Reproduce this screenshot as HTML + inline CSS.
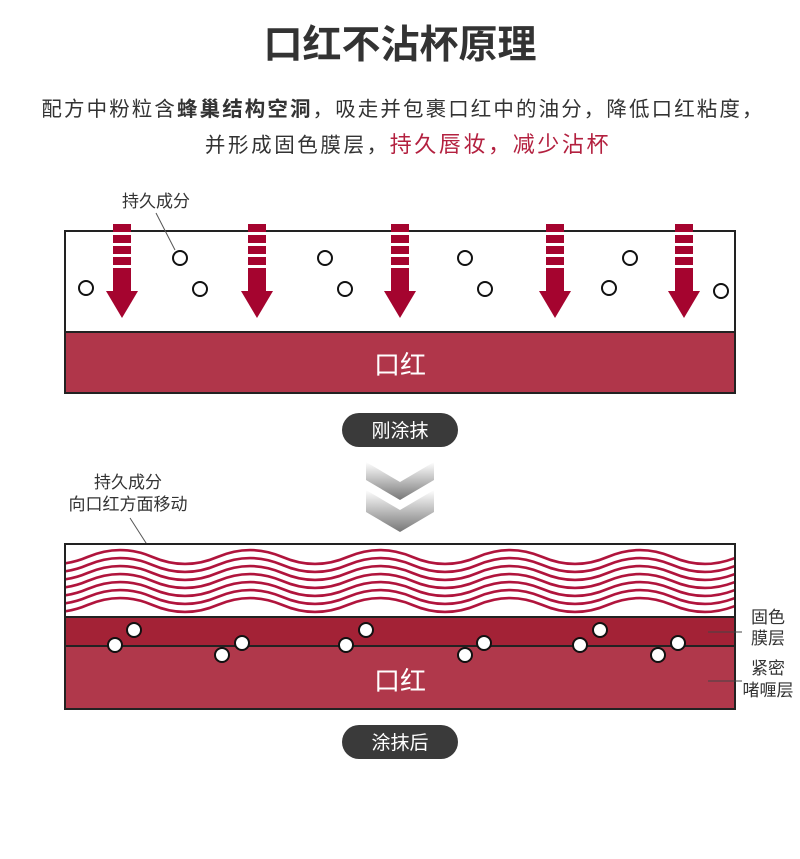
<!DOCTYPE html>
<html><head><meta charset="utf-8"><style>
body{margin:0;width:800px;height:854px;background:#fff;font-family:"Liberation Sans","Noto Sans CJK SC",sans-serif;overflow:hidden}
</style></head><body>
<svg width="800" height="854" xmlns="http://www.w3.org/2000/svg" font-family="Liberation Sans, Noto Sans CJK SC, sans-serif">
<defs>
<linearGradient id="g" x1="0" y1="0" x2="0" y2="1"><stop offset="0" stop-color="#fff"/><stop offset="1" stop-color="#777"/></linearGradient>
<g id="arr" fill="#a5042f">
<rect x="-9" y="224" width="18" height="8"/><rect x="-9" y="235" width="18" height="8"/><rect x="-9" y="246" width="18" height="8"/><rect x="-9" y="257" width="18" height="8"/>
<rect x="-9" y="268" width="18" height="24"/><polygon points="-16,291 16,291 0,318"/>
</g>
<path id="w" d="M22.5,0 C44.2,9.3 65.8,9.3 87.5,0 C109.2,-9.3 130.8,-9.3 152.5,0 C174.2,9.3 195.8,9.3 217.5,0 C239.2,-9.3 260.8,-9.3 282.5,0 C304.2,9.3 325.8,9.3 347.5,0 C369.2,-9.3 390.8,-9.3 412.5,0 C434.2,9.3 455.8,9.3 477.5,0 C499.2,-9.3 520.8,-9.3 542.5,0 C564.2,9.3 585.8,9.3 607.5,0 C629.2,-9.3 650.8,-9.3 672.5,0 C694.2,9.3 715.8,9.3 737.5,0 C759.2,-9.3 780.8,-9.3 802.5,0" fill="none" stroke="#b0143c" stroke-width="2.6"/>
<clipPath id="c"><rect x="66" y="545" width="668" height="72"/></clipPath>
</defs>
<text x="400" y="58" text-anchor="middle" font-size="39" font-weight="bold" fill="#333">口红不沾杯原理</text>
<text x="403" y="116" text-anchor="middle" font-size="20.5" fill="#333" letter-spacing="2.1">配方中粉粒含<tspan font-weight="bold">蜂巢结构空洞</tspan>，吸走并包裹口红中的油分，降低口红粘度，</text>
<text x="408" y="152" text-anchor="middle" font-size="20.5" fill="#333" letter-spacing="2.6">并形成固色膜层，<tspan fill="#b3203f" font-size="22">持久唇妆，减少沾杯</tspan></text>
<!-- panel 1 -->
<rect x="65" y="231" width="670" height="162" fill="#fff" stroke="#222" stroke-width="2"/>
<rect x="66" y="332" width="668" height="60" fill="#b0364a"/>
<line x1="65" y1="332" x2="735" y2="332" stroke="#222" stroke-width="2"/>
<text x="400" y="374" text-anchor="middle" font-size="26" fill="#fff">口红</text>
<g fill="#fff" stroke="#111" stroke-width="2">
<circle cx="86" cy="288" r="7"/><circle cx="180" cy="258" r="7"/><circle cx="200" cy="289" r="7"/><circle cx="325" cy="258" r="7"/><circle cx="345" cy="289" r="7"/><circle cx="465" cy="258" r="7"/><circle cx="485" cy="289" r="7"/><circle cx="609" cy="288" r="7"/><circle cx="630" cy="258" r="7"/><circle cx="721" cy="291" r="7"/>
</g>
<use href="#arr" x="122"/><use href="#arr" x="257"/><use href="#arr" x="400"/><use href="#arr" x="555"/><use href="#arr" x="684"/>
<text x="156" y="207" text-anchor="middle" font-size="17" fill="#333">持久成分</text>
<line x1="156" y1="213" x2="175" y2="250" stroke="#555" stroke-width="1"/>
<rect x="342" y="413" width="116" height="34" rx="17" fill="#3a3a3a"/>
<text x="400" y="437" text-anchor="middle" font-size="19" fill="#fff">刚涂抹</text>
<!-- chevrons -->
<polygon points="366,462 400,482 434,462 434,480 400,500 366,480" fill="url(#g)"/>
<polygon points="366,490 400,510 434,490 434,512 400,532 366,512" fill="url(#g)"/>
<!-- panel 2 -->
<text x="128" y="488" text-anchor="middle" font-size="17" fill="#333">持久成分</text>
<text x="128" y="510" text-anchor="middle" font-size="17" fill="#333">向口红方面移动</text>
<line x1="130" y1="518" x2="155" y2="557" stroke="#555" stroke-width="1"/>
<rect x="65" y="544" width="670" height="165" fill="#fff" stroke="#222" stroke-width="2"/>
<g clip-path="url(#c)">
<use href="#w" y="557"/><use href="#w" y="565"/><use href="#w" y="573"/><use href="#w" y="581"/><use href="#w" y="589"/><use href="#w" y="597"/><use href="#w" y="605"/>
</g>
<rect x="66" y="617" width="668" height="29" fill="#a32236"/>
<rect x="66" y="646" width="668" height="62" fill="#b0384b"/>
<line x1="65" y1="617" x2="735" y2="617" stroke="#222" stroke-width="2"/>
<line x1="65" y1="646" x2="735" y2="646" stroke="#222" stroke-width="2"/>
<text x="400" y="690" text-anchor="middle" font-size="26" fill="#fff">口红</text>
<g fill="#fff" stroke="#111" stroke-width="2">
<circle cx="115" cy="645" r="7"/><circle cx="134" cy="630" r="7"/><circle cx="222" cy="655" r="7"/><circle cx="242" cy="643" r="7"/><circle cx="346" cy="645" r="7"/><circle cx="366" cy="630" r="7"/><circle cx="465" cy="655" r="7"/><circle cx="484" cy="643" r="7"/><circle cx="580" cy="645" r="7"/><circle cx="600" cy="630" r="7"/><circle cx="658" cy="655" r="7"/><circle cx="678" cy="643" r="7"/>
</g>
<line x1="708" y1="632" x2="742" y2="632" stroke="#444" stroke-width="1"/>
<line x1="708" y1="681" x2="742" y2="681" stroke="#444" stroke-width="1"/>
<text x="768" y="623" text-anchor="middle" font-size="17" fill="#333">固色</text>
<text x="768" y="644" text-anchor="middle" font-size="17" fill="#333">膜层</text>
<text x="768" y="674" text-anchor="middle" font-size="17" fill="#333">紧密</text>
<text x="768" y="696" text-anchor="middle" font-size="17" fill="#333">啫喱层</text>
<rect x="342" y="725" width="116" height="34" rx="17" fill="#3a3a3a"/>
<text x="400" y="749" text-anchor="middle" font-size="19" fill="#fff">涂抹后</text>
</svg>
</body></html>
